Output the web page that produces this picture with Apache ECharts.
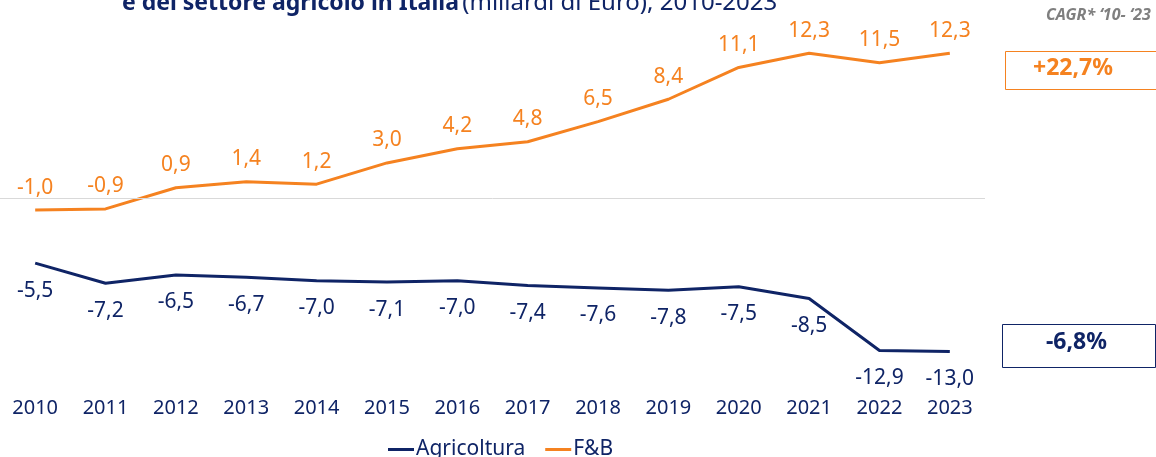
<!DOCTYPE html>
<html>
<head>
  <meta charset="utf-8">
  <title>Saldo commerciale</title>
  <script src="https://cdn.jsdelivr.net/npm/echarts@6/dist/echarts.min.js"></script>
  <style>
    html, body { margin: 0; padding: 0; background: #fff; }
    #main { width: 1156px; height: 457px; }
  </style>
</head>
<body>
  <div id="main"></div>
  <script>
    var years = ['2010', '2011', '2012', '2013', '2014', '2015', '2016', '2017', '2018', '2019', '2020', '2021', '2022', '2023'];
    var agricoltura = [-5.5, -7.2, -6.5, -6.7, -7.0, -7.1, -7.0, -7.4, -7.6, -7.8, -7.5, -8.5, -12.9, -13.0];
    var fb = [-1.0, -0.9, 0.9, 1.4, 1.2, 3.0, 4.2, 4.8, 6.5, 8.4, 11.1, 12.3, 11.5, 12.3];
    var cagrLabels = ['+22,7%', '-6,8%'];

    var NAVY = '#0f2466';
    var ORANGE = '#f58220';
    var FONT = 'Noto Sans';

    function fmt(v) {
      return v.toFixed(1).replace('.', ',');
    }

    var chart = echarts.init(document.getElementById('main'));

    chart.setOption({
      animation: false,
      textStyle: { fontFamily: FONT },
      grid: { left: 0, width: 985, top: 45, height: 342 },
      legend: {
        top: 434,
        left: 383,
        icon: 'rect',
        itemWidth: 26,
        itemHeight: 3,
        itemGap: 20,
        textStyle: { color: NAVY, fontSize: 21, fontFamily: FONT, padding: [0, 0, 0, -3] },
        data: ['Agricoltura', 'F&B']
      },
      xAxis: {
        type: 'category',
        data: years,
        axisLine: { show: false },
        axisTick: { show: false },
        axisLabel: { color: NAVY, fontSize: 20, margin: 11 }
      },
      yAxis: {
        type: 'value',
        min: -16,
        max: 13,
        show: false
      },
      graphic: [
        {
          type: 'text',
          left: 122,
          top: -9,
          style: {
            text: '{b|e del settore agricolo in Italia} {n|(miliardi di Euro), 2010-2023}',
            rich: {
              b: { fontSize: 23, fontWeight: 'bold', fill: NAVY, fontFamily: FONT },
              n: { fontSize: 24, fill: NAVY, fontFamily: FONT }
            }
          }
        },
        {
          type: 'text',
          left: 1046,
          top: 7,
          style: {
            text: 'CAGR* \u201810- \u201823',
            fontSize: 16,
            fontWeight: 'bold',
            fontStyle: 'italic',
            fill: '#7f7f7f',
            fontFamily: FONT
          }
        },
        {
          type: 'rect',
          left: 1005,
          top: 51,
          shape: { width: 160, height: 38 },
          style: { fill: '#fff', stroke: ORANGE, lineWidth: 1 }
        },
        {
          type: 'text',
          left: 1033,
          top: 57,
          style: { text: cagrLabels[0], fontSize: 23, fontWeight: 'bold', fill: ORANGE, fontFamily: FONT }
        },
        {
          type: 'rect',
          left: 1002,
          top: 324,
          shape: { width: 153, height: 43 },
          style: { fill: '#fff', stroke: NAVY, lineWidth: 1 }
        },
        {
          type: 'text',
          left: 1046,
          top: 331,
          style: { text: cagrLabels[1], fontSize: 23, fontWeight: 'bold', fill: NAVY, fontFamily: FONT }
        }
      ],
      series: [
        {
          name: 'Agricoltura',
          type: 'line',
          data: agricoltura,
          symbol: 'circle',
          symbolSize: 0,
          lineStyle: { color: NAVY, width: 3 },
          itemStyle: { color: NAVY },
          label: {
            show: true,
            position: 'bottom',
            distance: 17,
            color: NAVY,
            fontSize: 21,
            formatter: function (p) { return fmt(p.value); }
          }
        },
        {
          name: 'F&B',
          type: 'line',
          data: fb,
          symbol: 'circle',
          symbolSize: 0,
          lineStyle: { color: ORANGE, width: 3 },
          itemStyle: { color: ORANGE },
          label: {
            show: true,
            position: 'top',
            distance: 12,
            color: ORANGE,
            fontSize: 21,
            formatter: function (p) { return fmt(p.value); }
          },
          markLine: {
            silent: true,
            symbol: 'none',
            label: { show: false },
            lineStyle: { color: '#d9d9d9', width: 1, type: 'solid' },
            data: [{ yAxis: 0 }]
          }
        }
      ]
    });
  </script>
</body>
</html>
